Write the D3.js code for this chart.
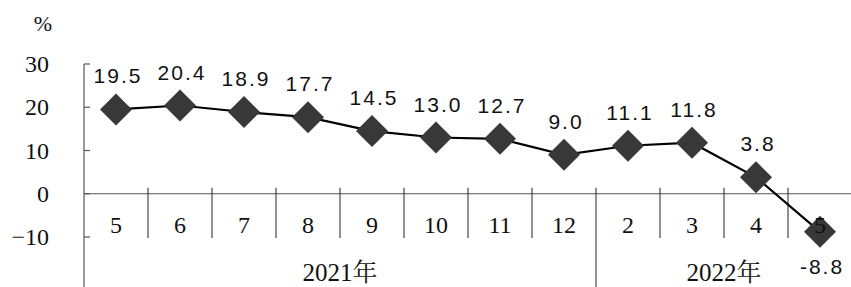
<!DOCTYPE html>
<html>
<head>
<meta charset="utf-8">
<script src="https://cdn.jsdelivr.net/npm/d3@7"></script>
<style>
  body { margin: 0; background: #fff; }
  svg { display: block; }
  .serif { font-family: "Liberation Serif", "Noto Serif CJK SC", "Noto Sans CJK SC", serif; fill: #111; }
  .lbl { font-family: "Liberation Sans", "Noto Sans", sans-serif; letter-spacing: 2px; fill: #111; }
</style>
</head>
<body>
<div id="graph"></div>
<script>
// months on the axis, in order
var months = ["5", "6", "7", "8", "9", "10", "11", "12", "2", "3", "4", "5"];
// growth, %
var values = [19.5, 20.4, 18.9, 17.7, 14.5, 13.0, 12.7, 9.0, 11.1, 11.8, 3.8, -8.8];
// year groups under the months
var years = ["2021年", "2022年"];
var yearCounts = [8, 4];
var yTicks = [-10, 0, 10, 20, 30];

var width = 851, height = 287;
var marginLeft = 84, plotRight = 852, plotTop = 64, plotBottom = 237;

var svg = d3.select('#graph').append('svg')
    .attr('width', width)
    .attr('height', height);

var idx = d3.range(months.length);

var x = d3.scaleBand()
    .domain(idx)
    .range([marginLeft, plotRight])
    .paddingInner(0).paddingOuter(0);

var y = d3.scaleLinear()
    .domain([-10, 30])
    .range([plotBottom, plotTop]);

var axisColor = '#555';

// y axis line runs down through the category rows
svg.append('line')
    .attr('x1', marginLeft).attr('x2', marginLeft)
    .attr('y1', y(30)).attr('y2', height)
    .attr('stroke', axisColor).attr('stroke-width', 1.2);

// y ticks (pointing inward) and labels
var yt = svg.append('g').selectAll('g')
    .data(yTicks)
    .enter().append('g');

yt.append('line')
    .attr('x1', marginLeft).attr('x2', marginLeft + 6)
    .attr('y1', d => y(d)).attr('y2', d => y(d))
    .attr('stroke', axisColor).attr('stroke-width', 1.2);

yt.append('text')
    .attr('class', 'serif')
    .attr('x', 49)
    .attr('y', d => y(d) + 8)
    .attr('text-anchor', 'end')
    .style('font-size', '24px')
    .text(d => d < 0 ? '\u2212' + Math.abs(d) : d);

svg.append('text')
    .attr('class', 'serif')
    .attr('x', 43).attr('y', 31)
    .attr('text-anchor', 'middle')
    .style('font-size', '22px')
    .text('%');

// zero line
svg.append('line')
    .attr('x1', marginLeft).attr('x2', plotRight)
    .attr('y1', y(0)).attr('y2', y(0))
    .attr('stroke', axisColor).attr('stroke-width', 1.2);

// separators between months
var yearStarts = [];
var acc = 0;
yearCounts.forEach(function(c){ yearStarts.push(acc); acc += c; });

svg.append('g').selectAll('line')
    .data(idx.slice(1))
    .enter().append('line')
    .attr('x1', d => x(d)).attr('x2', d => x(d))
    .attr('y1', y(0) - 6)
    .attr('y2', d => yearStarts.indexOf(d) >= 0 ? height : 238)
    .attr('stroke', '#222').attr('stroke-width', 1);

// year labels
svg.append('g').selectAll('text')
    .data(years)
    .enter().append('text')
    .attr('class', 'serif')
    .attr('x', function(d, i){
      var a = x(yearStarts[i]);
      var b = x(yearStarts[i] + yearCounts[i] - 1) + x.bandwidth();
      return (a + b) / 2;
    })
    .attr('y', 281)
    .attr('text-anchor', 'middle')
    .style('font-size', '25px')
    .text(d => d);

// line
var line = d3.line()
    .x(d => x(d) + x.bandwidth() / 2)
    .y(d => y(values[d]));

svg.append('path')
    .datum(idx)
    .attr('d', line)
    .attr('fill', 'none')
    .attr('stroke', '#000')
    .attr('stroke-width', 2.2);

// diamond markers
var r = 16;
svg.append('g').selectAll('path')
    .data(idx)
    .enter().append('path')
    .attr('transform', d => 'translate(' + (x(d) + x.bandwidth() / 2) + ',' + y(values[d]) + ')')
    .attr('d', 'M0,' + (-r) + 'L' + r + ',0L0,' + r + 'L' + (-r) + ',0Z')
    .attr('fill', '#383838');

// month labels (drawn over the markers)
svg.append('g').selectAll('text')
    .data(idx)
    .enter().append('text')
    .attr('class', 'serif')
    .attr('x', d => x(d) + x.bandwidth() / 2)
    .attr('y', 233)
    .attr('text-anchor', 'middle')
    .style('font-size', '24px')
    .text(d => months[d]);

// value labels
svg.append('g').selectAll('text')
    .data(idx)
    .enter().append('text')
    .attr('class', 'lbl')
    .attr('x', d => x(d) + x.bandwidth() / 2 + 2)
    .attr('y', d => values[d] < 0 ? y(values[d]) + 42 : y(values[d]) - 26)
    .attr('text-anchor', 'middle')
    .style('font-size', '21px')
    .text(d => values[d] < 0 ? '-' + Math.abs(values[d]).toFixed(1) : values[d].toFixed(1));
</script>
</body>
</html>
